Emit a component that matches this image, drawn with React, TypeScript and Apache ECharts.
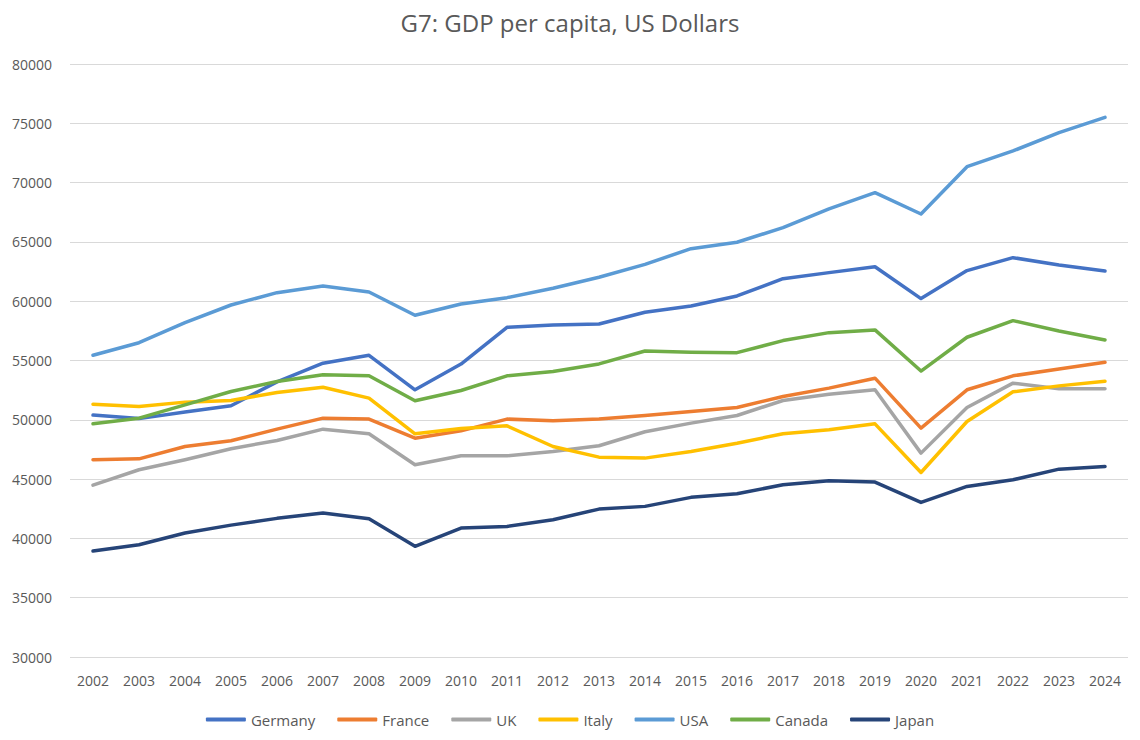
import React, { useEffect, useRef } from "react";
import * as echarts from "echarts";

const years = ["2002","2003","2004","2005","2006","2007","2008","2009","2010","2011","2012","2013","2014","2015","2016","2017","2018","2019","2020","2021","2022","2023","2024"];

const germany = [50400, 50100, 50650, 51180, 53200, 54770, 55440, 52530, 54700, 57800, 58000, 58080, 59070, 59600, 60440, 61900, 62410, 62910, 60220, 62580, 63670, 63060, 62550];
const france = [46630, 46710, 47750, 48230, 49210, 50140, 50060, 48450, 49070, 50060, 49920, 50060, 50360, 50700, 51040, 51970, 52670, 53510, 49300, 52530, 53710, 54280, 54850];
const uk = [44490, 45790, 46630, 47560, 48260, 49210, 48820, 46210, 46970, 46970, 47330, 47810, 48990, 49720, 50360, 51630, 52160, 52530, 47190, 51040, 53090, 52610, 52610];
const italy = [51320, 51120, 51490, 51630, 52300, 52750, 51830, 48820, 49270, 49490, 47750, 46850, 46770, 47330, 48030, 48820, 49160, 49660, 45560, 49860, 52360, 52860, 53260];
const usa = [55440, 56500, 58190, 59680, 60720, 61290, 60780, 58810, 59770, 60300, 61090, 62020, 63110, 64430, 64970, 66200, 67780, 69150, 67350, 71340, 72670, 74210, 75500];
const canada = [49660, 50140, 51260, 52390, 53230, 53790, 53710, 51600, 52470, 53710, 54070, 54710, 55800, 55690, 55660, 56680, 57350, 57580, 54110, 56960, 58360, 57490, 56730];
const japan = [38930, 39470, 40450, 41120, 41690, 42140, 41660, 39330, 40870, 41010, 41570, 42470, 42700, 43460, 43760, 44520, 44860, 44750, 43030, 44380, 44940, 45840, 46070];

const seriesDefs = [
  { name: "Germany", data: germany, color: "#4472C4" },
  { name: "France", data: france, color: "#ED7D31" },
  { name: "UK", data: uk, color: "#A5A5A5" },
  { name: "Italy", data: italy, color: "#FFC000" },
  { name: "USA", data: usa, color: "#5B9BD5" },
  { name: "Canada", data: canada, color: "#70AD47" },
  { name: "Japan", data: japan, color: "#264478" },
];

const FONT = "'Open Sans', 'Noto Sans', sans-serif";

export default function App() {
  const ref = useRef<HTMLDivElement>(null);
  useEffect(() => {
    if (!ref.current) return;
    const chart = echarts.init(ref.current, null, { renderer: "svg" });
    chart.setOption({
      animation: false,
      backgroundColor: "#ffffff",
      title: {
        text: "G7: GDP per capita, US Dollars",
        left: "center",
        top: 5,
        textStyle: { fontFamily: FONT, fontSize: 24, fontWeight: "normal", color: "#595959" },
      },
      grid: { left: 70, right: 12, top: 64, bottom: 83, containLabel: false },
      legend: {
        bottom: 8,
        left: "center",
        itemWidth: 40,
        itemHeight: 4,
        itemGap: 22,
        icon: "roundRect",
        textStyle: { fontFamily: FONT, fontSize: 15, color: "#595959" },
        data: seriesDefs.map((s) => s.name),
      },
      xAxis: {
        type: "category",
        data: years,
        boundaryGap: true,
        axisLine: { show: false },
        axisTick: { show: false },
        axisLabel: { fontFamily: FONT, fontSize: 14, color: "#595959", margin: 16 },
      },
      yAxis: {
        type: "value",
        min: 30000,
        max: 80000,
        interval: 5000,
        axisLine: { show: false },
        axisTick: { show: false },
        axisLabel: {
          fontFamily: FONT,
          fontSize: 14,
          color: "#595959",
          margin: 18,
          formatter: (v: number) => String(v),
        },
        splitLine: { lineStyle: { color: "#D9D9D9", width: 1 } },
      },
      series: seriesDefs.map((s) => ({
        name: s.name,
        type: "line",
        data: s.data,
        showSymbol: false,
        symbol: "none",
        color: s.color,
        lineStyle: { color: s.color, width: 3.5, cap: "round", join: "round" },
        itemStyle: { color: s.color },
      })),
    });
    return () => chart.dispose();
  }, []);
  return (
    <div
      ref={ref}
      style={{ position: "fixed", left: 0, top: 0, width: 1140, height: 740 }}
    />
  );
}
